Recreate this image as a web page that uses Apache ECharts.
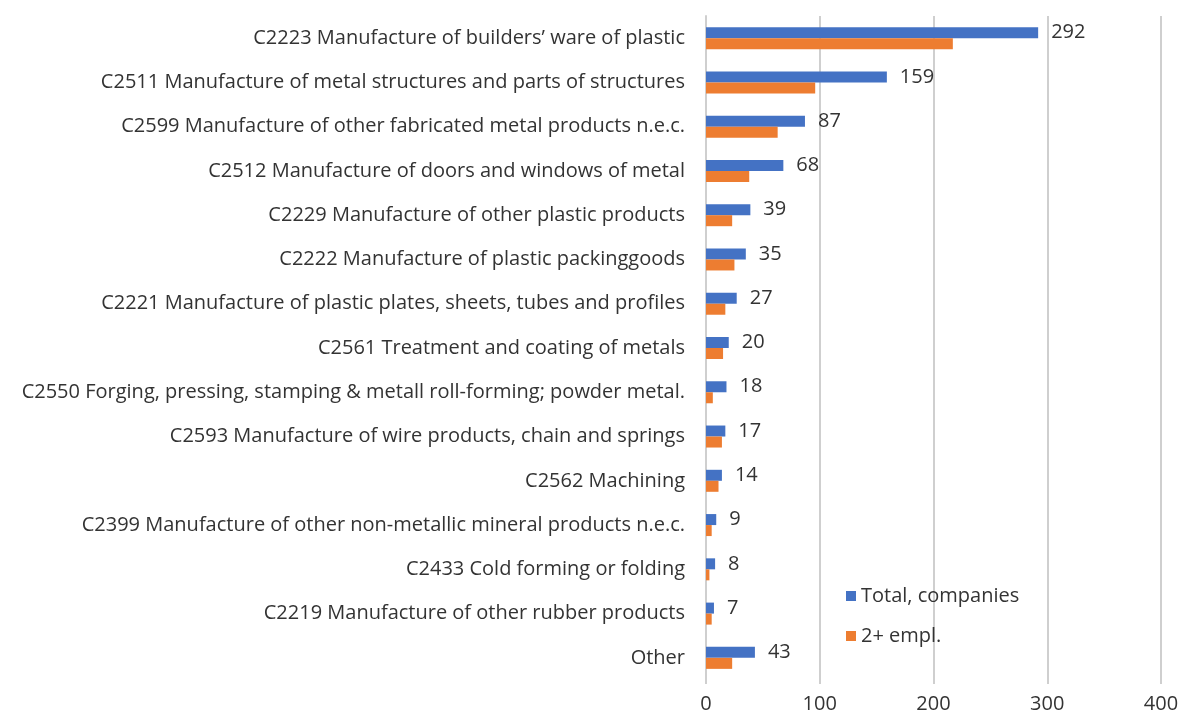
<!DOCTYPE html>
<html>
<head>
<meta charset="utf-8">
<script src="https://cdn.jsdelivr.net/npm/echarts@6/dist/echarts.min.js"></script>
<style>
  html, body { margin: 0; padding: 0; background: #fff; }
  #chart { width: 1182px; height: 715px; }
</style>
</head>
<body>
<div id="chart"></div>
<script>
// industry codes, top to bottom as in the picture
const categories = [
  'C2223 Manufacture of builders\u2019 ware of plastic',
  'C2511 Manufacture of metal structures and parts of structures',
  'C2599 Manufacture of other fabricated metal products n.e.c.',
  'C2512 Manufacture of doors and windows of metal',
  'C2229 Manufacture of other plastic products',
  'C2222 Manufacture of plastic packinggoods',
  'C2221 Manufacture of plastic plates, sheets, tubes and profiles',
  'C2561 Treatment and coating of metals',
  'C2550 Forging, pressing, stamping & metall roll-forming; powder metal.',
  'C2593 Manufacture of wire products, chain and springs',
  'C2562 Machining',
  'C2399 Manufacture of other non-metallic mineral products n.e.c.',
  'C2433 Cold forming or folding',
  'C2219 Manufacture of other rubber products',
  'Other'
];
const totalCompanies = [292, 159, 87, 68, 39, 35, 27, 20, 18, 17, 14, 9, 8, 7, 43];
const twoPlusEmpl = [217, 96, 63, 38, 23, 25, 17, 15, 6, 14, 11, 5, 3, 5, 23];
const xTicks = [0, 100, 200, 300, 400];

const font = '"Open Sans", sans-serif';
const textColor = '#333333';
const gridColor = '#cfcfcf';

const chart = echarts.init(document.getElementById('chart'));
chart.setOption({
  animation: false,
  textStyle: { fontFamily: font },
  grid: { left: 706, right: 21, top: 16, bottom: 35, containLabel: false },
  legend: {
    orient: 'vertical',
    left: 846,
    top: 586,
    padding: 0,
    itemWidth: 10,
    itemHeight: 10,
    itemGap: 20,
    icon: 'rect',
    textStyle: { fontSize: 20, color: textColor, fontFamily: font, padding: [0, 0, 0, 0] },
    data: ['Total, companies', '2+ empl.']
  },
  xAxis: {
    type: 'value',
    min: xTicks[0],
    max: xTicks[xTicks.length - 1],
    interval: 100,
    axisLine: { show: false },
    axisTick: { show: true, length: 4, lineStyle: { color: gridColor, width: 2 } },
    splitLine: { lineStyle: { color: gridColor, width: 2 } },
    axisLabel: { fontSize: 20, color: textColor, margin: 14 }
  },
  yAxis: {
    type: 'category',
    inverse: true,
    data: categories,
    axisLine: { show: true, lineStyle: { color: gridColor, width: 2 } },
    axisTick: { show: false },
    axisLabel: { fontSize: 20, color: textColor, margin: 21 }
  },
  series: [
    {
      name: 'Total, companies',
      type: 'bar',
      data: totalCompanies,
      barWidth: 11,
      barGap: '0%',
      itemStyle: { color: '#4472c4' },
      label: {
        show: true,
        position: 'right',
        distance: 13,
        fontSize: 20,
        color: textColor
      }
    },
    {
      name: '2+ empl.',
      type: 'bar',
      data: twoPlusEmpl,
      barWidth: 11,
      barGap: '0%',
      itemStyle: { color: '#ed7d31' }
    }
  ]
});
</script>
</body>
</html>
